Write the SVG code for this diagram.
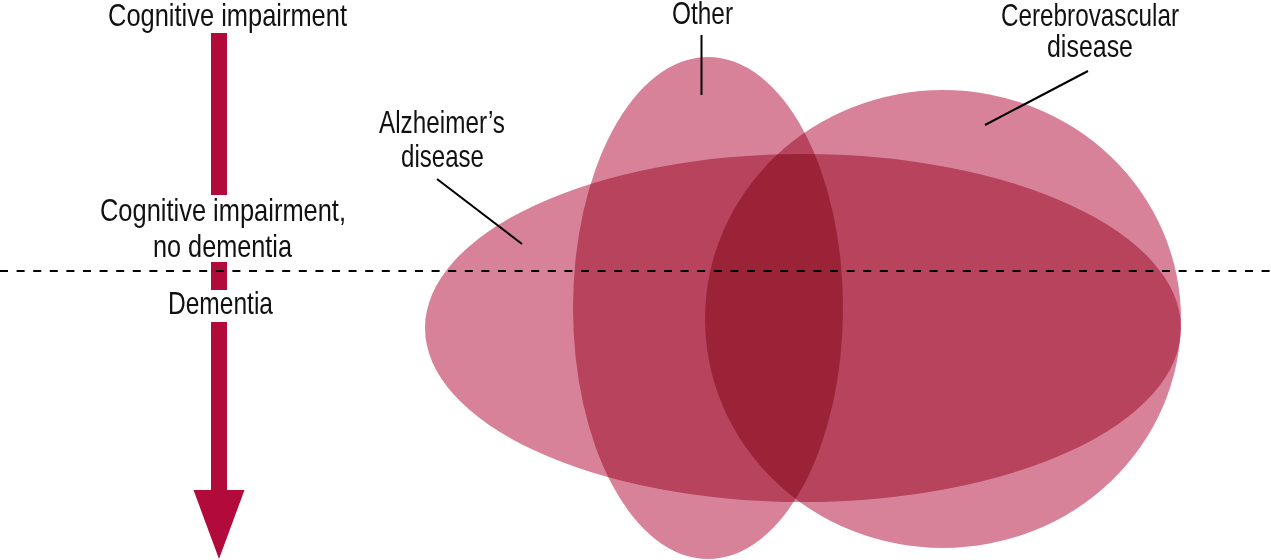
<svg xmlns="http://www.w3.org/2000/svg" width="1271" height="560" viewBox="0 0 1271 560">
  <defs>
    <style>
      .lbl { font-family: "Liberation Sans", Arial, sans-serif; font-size: 30.5px; fill: #111; text-anchor: start; }
      .blob { fill: #d8829a; mix-blend-mode: multiply; }
      .lead { stroke: #000; stroke-width: 2; fill: none; }
      .arrow { fill: #b30a3c; }
    </style>
  </defs>
  <rect width="1271" height="560" fill="#fff"/>
  <g style="isolation:isolate">
    <g id="alzheimers-area"><ellipse class="blob" cx="803" cy="328" rx="378" ry="174"/></g>
    <g id="other-area"><ellipse class="blob" cx="708" cy="308" rx="135" ry="251"/></g>
    <g id="cerebrovascular-area"><ellipse class="blob" cx="943" cy="319" rx="238" ry="229"/></g>
  </g>
  <g id="axis">
    <rect class="arrow" x="211" y="33" width="16" height="162"/>
    <rect class="arrow" x="211" y="262" width="16" height="28"/>
    <rect class="arrow" x="211" y="322" width="16" height="169"/>
    <polygon class="arrow" points="193.5,490 244.5,490 219,559"/>
  </g>
  <g id="connectors">
    <line class="lead" x1="437" y1="179" x2="522" y2="244"/>
    <line class="lead" x1="701.5" y1="35" x2="701.5" y2="95"/>
    <line class="lead" x1="1088" y1="71" x2="985" y2="125"/>
    <line x1="0" y1="271" x2="1271" y2="271" stroke="#000" stroke-width="2" stroke-dasharray="8 8.6"/>
  </g>
  <g id="labels">
    <text class="lbl" x="108" y="26" textLength="239" lengthAdjust="spacingAndGlyphs">Cognitive impairment</text>
    <text class="lbl" x="100" y="221" textLength="246" lengthAdjust="spacingAndGlyphs">Cognitive impairment,</text>
    <text class="lbl" x="153" y="256.5" textLength="139" lengthAdjust="spacingAndGlyphs">no dementia</text>
    <text class="lbl" x="168" y="313.5" textLength="105" lengthAdjust="spacingAndGlyphs">Dementia</text>
    <text class="lbl" x="379" y="132.5" textLength="126" lengthAdjust="spacingAndGlyphs">Alzheimer’s</text>
    <text class="lbl" x="401" y="166.5" textLength="83" lengthAdjust="spacingAndGlyphs">disease</text>
    <text class="lbl" x="672" y="24" textLength="61" lengthAdjust="spacingAndGlyphs">Other</text>
    <text class="lbl" x="1001" y="26" textLength="178" lengthAdjust="spacingAndGlyphs">Cerebrovascular</text>
    <text class="lbl" x="1047" y="57" textLength="86" lengthAdjust="spacingAndGlyphs">disease</text>
  </g>
</svg>
